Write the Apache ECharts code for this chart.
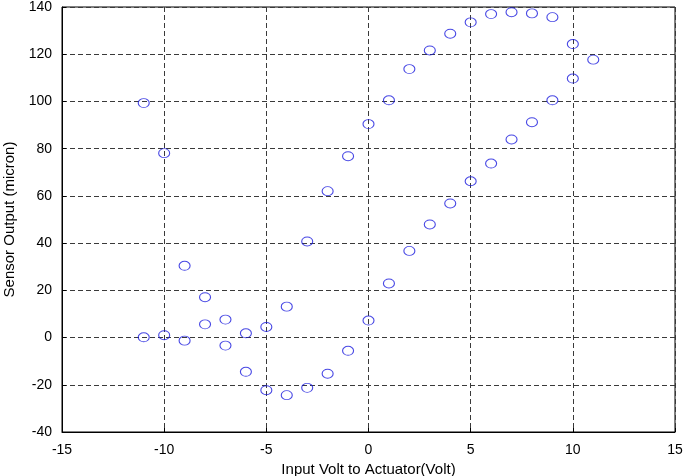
<!DOCTYPE html>
<html>
<head>
<meta charset="utf-8">
<script src="https://cdn.jsdelivr.net/npm/echarts@6/dist/echarts.min.js"></script>
<style>
  html, body { margin: 0; padding: 0; background: #fff; }
  #chart { width: 688px; height: 476px; }
</style>
</head>
<body>
<div id="chart"></div>
<script>
// upper branch (decreasing side of the loop)
const upperVolts = [-11, -10, -9, -8, -7, -6, -5, -4, -3, -2, -1, 0, 1, 2, 3, 4, 5, 6, 7, 8, 9, 10, 11]
const upperOutput = [99.3, 78.1, 30.4, 17.1, 7.6, 1.8, 4.5, 13.1, 40.7, 62, 76.8, 90.4, 100.5, 113.7, 121.6, 128.7, 133.5, 137, 137.8, 137.3, 135.7, 124.3, 117.7]

// lower branch
const lowerVolts = [-11, -10, -9, -8, -7, -6, -5, -4, -3, -2, -1, 0, 1, 2, 3, 4, 5, 6, 7, 8, 9, 10]
const lowerOutput = [0.1, 1.0, -1.3, 5.6, -3.4, -14.5, -22.3, -24.4, -21.3, -15.3, -5.6, 7.2, 22.9, 36.7, 47.9, 56.8, 66.2, 73.7, 83.9, 91.2, 100.5, 109.7]

const xTicks = [-15, -10, -5, 0, 5, 10, 15]
const yTicks = [-40, -20, 0, 20, 40, 60, 80, 100, 120, 140]

const points = upperVolts.map((v, i) => [v, upperOutput[i]])
  .concat(lowerVolts.map((v, i) => [v, lowerOutput[i]]))

const chart = echarts.init(document.getElementById('chart'))

const labelFont = {
  color: '#000',
  fontFamily: 'Liberation Sans, Arial, sans-serif',
  fontSize: 14,
}

const dashed = {
  show: true,
  lineStyle: { color: '#3a3a3a', type: [5, 3], width: 1 },
}

chart.setOption({
  animation: false,
  backgroundColor: '#fff',
  grid: {
    left: 62,
    right: 13,
    top: 7,
    bottom: 44,
    containLabel: false,
    outerBoundsMode: 'none',
    show: true,
    borderColor: '#000',
    borderWidth: 1,
    backgroundColor: 'transparent',
  },
  xAxis: {
    type: 'value',
    min: xTicks[0],
    max: xTicks[xTicks.length - 1],
    interval: 5,
    name: 'Input Volt to Actuator(Volt)',
    nameLocation: 'middle',
    nameGap: 27,
    nameTextStyle: { ...labelFont, fontSize: 15 },
    axisLine: { show: true, onZero: false, lineStyle: { color: '#000', width: 1 } },
    axisTick: { show: true, inside: true, length: 4, lineStyle: { color: '#000' } },
    axisLabel: { ...labelFont, margin: 11 },
    splitLine: dashed,
  },
  yAxis: {
    type: 'value',
    min: yTicks[0],
    max: yTicks[yTicks.length - 1],
    interval: 20,
    name: 'Sensor Output (micron)',
    nameLocation: 'middle',
    nameGap: 38,
    nameTextStyle: { ...labelFont, fontSize: 15 },
    axisLine: { show: true, onZero: false, lineStyle: { color: '#000', width: 1 } },
    axisTick: { show: true, inside: true, length: 4, lineStyle: { color: '#000' } },
    axisLabel: { ...labelFont, margin: 10 },
    splitLine: dashed,
  },
  series: [
    {
      type: 'scatter',
      data: points,
      symbol: 'circle',
      symbolSize: [11, 9],
      itemStyle: { color: 'rgba(255,255,255,0)', borderColor: '#1a1add', borderWidth: 1 },
    },
  ],
})
</script>
</body>
</html>
